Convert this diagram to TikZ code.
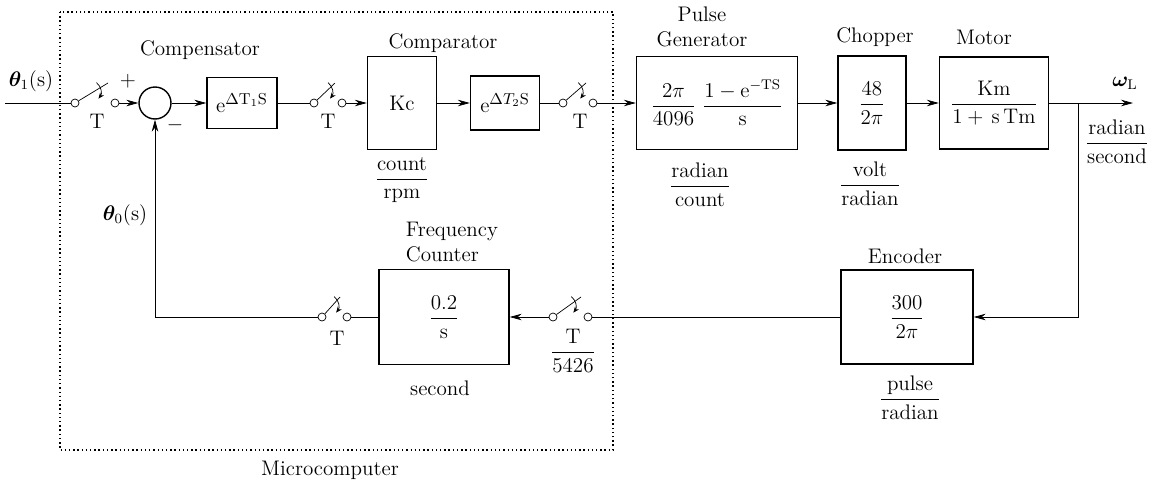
\documentclass[tikz,border=0pt]{standalone}
\usepackage{amsmath}
\usepackage{amssymb}
\usepackage{bm}
\usepackage{xcolor}
\usepackage{tikz}
\usetikzlibrary{arrows.meta, positioning, calc}

\begin{document}
\begin{tikzpicture}[x=0.02cm, y=-0.02cm, font=\large,
      blk/.style={draw, thick, rectangle, inner sep=0pt},
      pin/.style={draw, circle, inner sep=0pt, minimum size=0.16cm, fill=white},
      lbl/.style={inner sep=1pt},
      >={Stealth[length=2.4mm, width=1.3mm]}]
    \useasboundingbox (0,0) rectangle (1163,491);
    % Microcomputer frame
    \draw[dash pattern=on 0.8pt off 1.6pt, semithick] (60,12) rectangle (613,450);
    \node[lbl] (mc) at (330,470) {Microcomputer};
    % forward path
    \node[draw, thick, circle, minimum size=0.64cm] (sum) at (155,103) {};
    \node[blk, minimum width=1.4cm, minimum height=1.02cm] (comp) at (242,103)
          {e$^{\mbox{\small$\Delta$T$_1$S}}$};
    \node[blk, minimum width=1.38cm, minimum height=1.86cm] (kc) at (402,103) {Kc};
    \node[blk, minimum width=1.38cm, minimum height=1.08cm] (dly) at (505,103)
          {e$^{\mbox{\small$\Delta T_2$S}}$};
    \node[blk, minimum width=3.22cm, minimum height=1.86cm] (pg) at (717,103)
          {$\dfrac{2\pi}{4096}\;\dfrac{1-\mathrm{e}^{-\mathrm{TS}}}{\mathrm{s}}$};
    \node[blk, minimum width=1.36cm, minimum height=1.88cm] (chop) at (872,103)
          {$\dfrac{48}{2\pi}$};
    \node[blk, minimum width=2.18cm, minimum height=1.84cm] (mot) at (994,103)
          {$\dfrac{\mathrm{Km}}{1+\,\mathrm{s\,Tm}}$};
    % feedback path
    \node[blk, minimum width=2.64cm, minimum height=1.88cm] (enc) at (907,317)
          {$\dfrac{300}{2\pi}$};
    \node[blk, minimum width=2.6cm, minimum height=1.9cm] (fc) at (444,317)
          {$\dfrac{0.2}{\mathrm{s}}$};
    % samplers
    \foreach \n/\xa/\xb/\yy in {1/75/115/103, 2/314/342/103, 3/563/593/103,
                                4/553/588/317, 5/322/347/317} {
      \node[pin] (s\n a) at (\xa,\yy) {};
      \node[pin] (s\n b) at (\xb,\yy) {};
      \coordinate (l\n) at ($(s\n b)+(-7,-20)$);
      \draw (s\n a) -- (l\n);
      \draw[-{Stealth[length=1.2mm, width=1mm]}]
        ($(s\n a)!0.62!(l\n)+(1,-8)$) to[bend left=45] ($(s\n a)!0.62!(l\n)+(3,8)$);
    }
    % block labels
    \node[lbl] (compl) at (200,50) {Compensator};
    \node[lbl] (kcl) at (443,43) {Comparator};
    \node[lbl, align=center] (pgl) at (702,27) {Pulse\\Generator};
    \node[lbl] (chopl) at (875,37) {Chopper};
    \node[lbl] (motl) at (984,37) {Motor};
    \node[lbl] (encl) at (905,256) {Encoder};
    \node[lbl, align=left] (fcl) at (452,242) {Frequency\\Counter};
    % units
    \node (ukc) at (402,180) {$\dfrac{\text{count}}{\text{rpm}}$};
    \node (upg) at (700,185) {$\dfrac{\text{radian}}{\text{count}}$};
    \node (uchop) at (870,184) {$\dfrac{\text{volt}}{\text{radian}}$};
    \node (uout) at (1117,142) {$\dfrac{\text{radian}}{\text{second}}$};
    \node (uenc) at (910,398) {$\dfrac{\text{pulse}}{\text{radian}}$};
    \node (ufc) at (440,388) {second};
    \node (us4) at (573,351) {$\dfrac{\mathrm{T}}{5426}$};
    \node (t1) at (97,121) {T};
    \node (t2) at (328,121) {T};
    \node (t3) at (580,121) {T};
    \node (t5) at (337,338) {T};
    % signals
    \node (thi) at (31,81) {$\bm{\theta}_1$(s)};
    \node (tho) at (125,215) {$\bm{\theta}_0$(s)};
    \node (wl) at (1125,83) {$\bm{\omega}_{\mathrm{L}}$};
    \node (plus) at (128,81) {$+$};
    \node (minus) at (175,125) {$-$};
    \coordinate (in) at (5,103);
    \coordinate (out) at (1133,103);
    \coordinate (br) at (1078,103);
    % connections
    \draw (in) -- (s1a);
    \draw[->] (s1b) -- (sum);
    \draw[->] (sum) -- (comp);
    \draw (comp) -- (s2a);
    \draw[->] (s2b) -- (kc);
    \draw[->] (kc) -- (dly);
    \draw (dly) -- (s3a);
    \draw[->] (s3b) -- (pg);
    \draw[->] (pg) -- (chop);
    \draw[->] (chop) -- (mot);
    \draw[->] (mot) -- (out);
    \draw[->] (br) |- (enc);
    \draw (enc) -- (s4b);
    \draw[->] (s4a) -- (fc);
    \draw (fc) -- (s5b);
    \draw[->] (s5a) -| (sum);
\end{tikzpicture}
\end{document}
